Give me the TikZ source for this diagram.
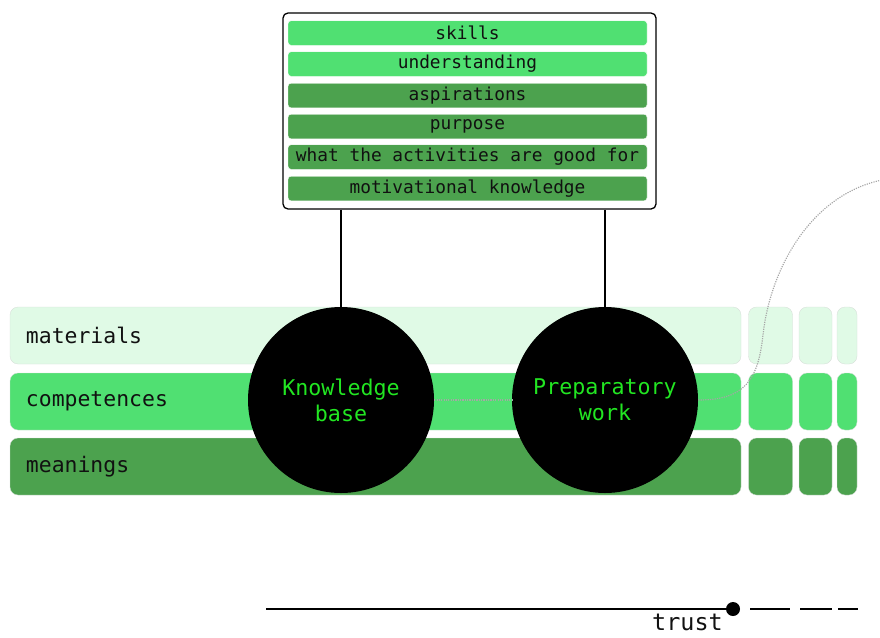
\documentclass[tikz,border=0pt]{standalone}
\usepackage{fontspec}
\setmonofont{DejaVu Sans Mono}
\usepackage{xcolor}
\usepackage{tikz}
\usetikzlibrary{positioning,calc}
\definecolor{ink}{HTML}{111111}
\definecolor{mint}{HTML}{E0FAE6}
\definecolor{lime}{HTML}{50E072}
\definecolor{leaf}{HTML}{4CA24E}
\definecolor{glow}{HTML}{22E622}
\definecolor{edge}{HTML}{D6DDD8}
\newcommand{\pxu}{0.03cm}
\tikzset{
  bar/.style    ={draw=edge, line width=.3pt, rounded corners=8*\pxu, inner sep=0pt,
                  minimum height=57*\pxu},
  rowlbl/.style ={font=\ttfamily\fontsize{18.3}{22}\selectfont, text=ink, anchor=west},
  item/.style   ={draw=white, line width=.3pt, rounded corners=3*\pxu, inner sep=0pt,
                  minimum width=359*\pxu, minimum height=24.5*\pxu,
                  font=\ttfamily\fontsize{15.2}{18}\selectfont, text=ink},
  hub/.style    ={circle, fill=black, inner sep=0pt, minimum size=186*\pxu, align=center,
                  font=\ttfamily\fontsize{18.5}{22}\selectfont, text=glow},
  trail/.style  ={draw=black!35, densely dotted, line width=1pt},
  tie/.style    ={draw=black, line width=.9pt},
  axis/.style   ={draw=black, line width=1.3pt},
}

\begin{document}
\begin{tikzpicture}[x=\pxu,y=-\pxu]
  \useasboundingbox (0,0) rectangle (880,637);
  % rows
  \node[bar, fill=mint, minimum width=731*\pxu](mat)  at (375.5,335.5){};
  \node[bar, fill=lime, minimum width=731*\pxu](comp) at (375.5,401.5){};
  \node[bar, fill=leaf, minimum width=731*\pxu](mean) at (375.5,466.5){};
  \node[rowlbl](matl)  at ([xshift=12*\pxu]mat.west){materials};
  \node[rowlbl](compl) at ([xshift=12*\pxu]comp.west){competences};
  \node[rowlbl](meanl) at ([xshift=12*\pxu]mean.west){meanings};
  % side blocks
  \foreach \cx/\w [count=\i] in {770.5/44,815.5/33,847/20}{
    \node[bar, fill=mint, minimum width=\w*\pxu](m\i) at (\cx,335.5){};
    \node[bar, fill=lime, minimum width=\w*\pxu](c\i) at (\cx,401.5){};
    \node[bar, fill=leaf, minimum width=\w*\pxu](g\i) at (\cx,466.5){};
  }
  % hubs and dotted trail
  \node[hub](kb)   at (341,400){Knowledge\\base};
  \node[hub](prep) at (605,400){Preparatory\\work};
  \coordinate (tail) at (882,180);
  \draw[trail](kb.east)--(prep.west);
  \draw[trail](prep.east) .. controls (745,400) and (758,380) .. (763,335)
                          .. controls (770,270) and (810,195) .. (tail);
  % knowledge box
  \node[draw=black, line width=1.1pt, fill=white, rounded corners=5*\pxu,
        minimum width=373*\pxu, minimum height=196*\pxu](kbox) at (469.5,111){};
  \node[item, fill=lime](sk)  at (467.5,33){skills};
  \node[item, fill=lime](und) at (467.5,64){understanding};
  \node[item, fill=leaf](asp) at (467.5,95.5){aspirations};
  \node[item, fill=leaf](pur) at (467.5,126.5){purpose};
  \node[item, fill=leaf](act) at (467.5,157){what the activities are good for};
  \node[item, fill=leaf](mot) at (467.5,188.5){motivational knowledge};
  \draw[tie](kbox.south -| kb.north)--(kb.north);
  \draw[tie](kbox.south -| prep.north)--(prep.north);
  % trust axis
  \coordinate (t0) at (266,609);
  \node[circle, fill=black, inner sep=0pt, minimum size=14*\pxu](tdot) at (733,609){};
  \draw[axis](t0)--(tdot);
  \foreach \a/\b in {750/790,800/832,838/858}
    \draw[axis](\a,609)--(\b,609);
  \node[font=\ttfamily\fontsize{20}{24}\selectfont, text=ink, anchor=base east,
        inner sep=0pt] (trust) at (723,630){trust};
\end{tikzpicture}
\end{document}
